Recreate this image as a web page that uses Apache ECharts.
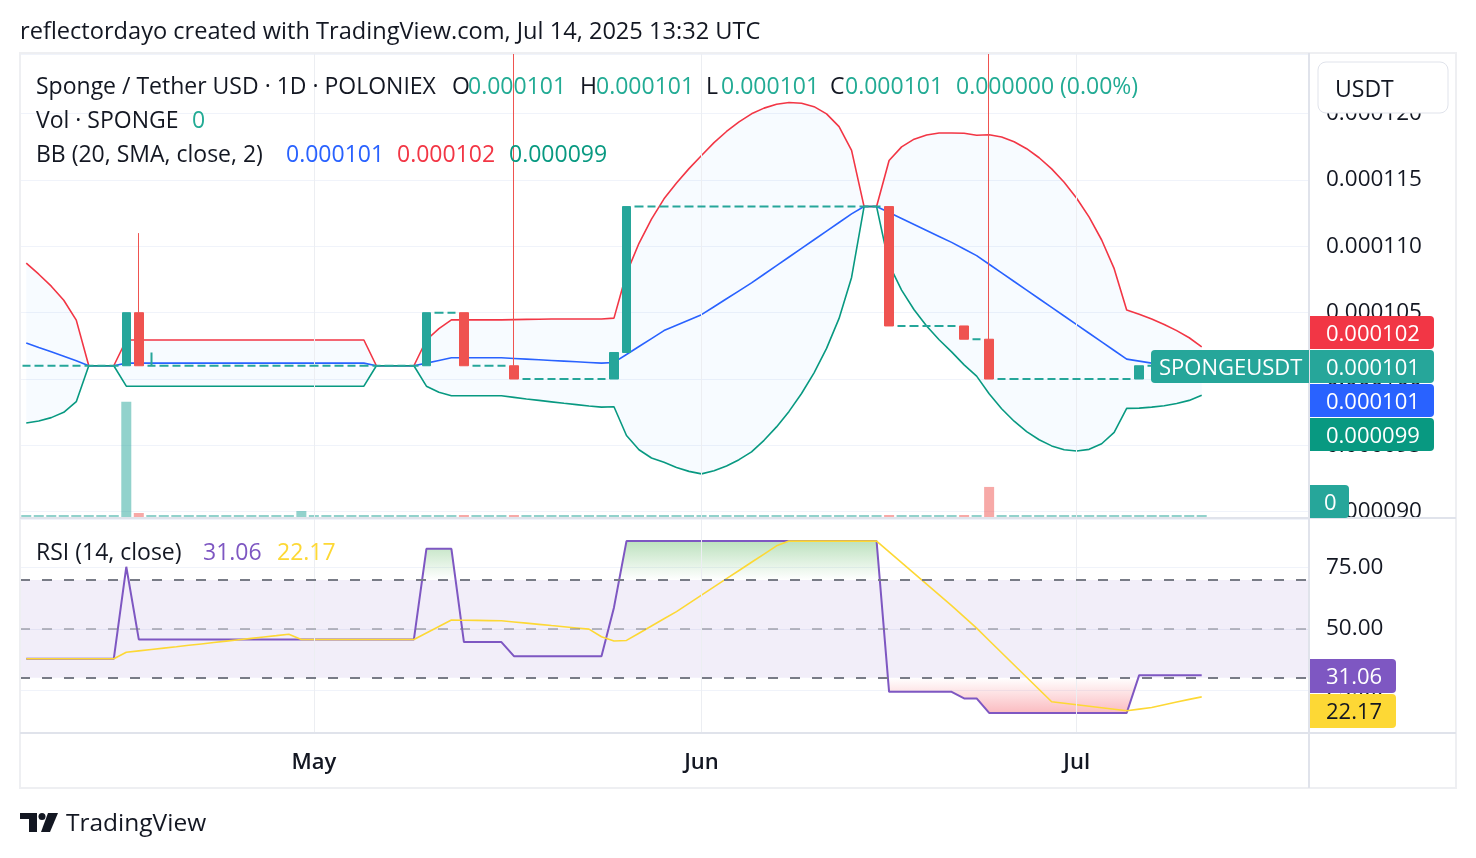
<!DOCTYPE html>
<html>
<head>
<meta charset="utf-8">
<title>Sponge / Tether USD · 1D · POLONIEX</title>
<script src="https://cdn.jsdelivr.net/npm/echarts@6.0.0/dist/echarts.min.js"></script>
<style>
  html, body { margin: 0; padding: 0; background: #ffffff; }
  #chart { width: 1476px; height: 858px; }
</style>
</head>
<body>
<div id="chart"></div>
<script>
// Prices are kept in micro-USDT (1 = 0.000001 USDT), one entry per day from 2025-04-08 to 2025-07-11
const firstDay = Date.UTC(2025, 3, 8);
const axisDays = 103; // the time axis runs on to 2025-07-19

const opens = [
  101, 101, 101, 101, 101, 101, 101, 101, 101, 105,
  101, 101, 101, 101, 101, 101, 101, 101, 101, 101,
  101, 101, 101, 101, 101, 101, 101, 101, 101, 101,
  101, 101, 101, 105, 105, 105, 101, 101, 101, 101,
  100, 100, 100, 100, 100, 100, 100, 100, 102, 113,
  113, 113, 113, 113, 113, 113, 113, 113, 113, 113,
  113, 113, 113, 113, 113, 113, 113, 113, 113, 113,
  104, 104, 104, 104, 104, 104, 103, 103, 100, 100,
  100, 100, 100, 100, 100, 100, 100, 100, 100, 100,
  101, 101, 101, 101, 101
];
const closes = [
  101, 101, 101, 101, 101, 101, 101, 101, 105, 101,
  101, 101, 101, 101, 101, 101, 101, 101, 101, 101,
  101, 101, 101, 101, 101, 101, 101, 101, 101, 101,
  101, 101, 105, 105, 105, 101, 101, 101, 101, 100,
  100, 100, 100, 100, 100, 100, 100, 102, 113, 113,
  113, 113, 113, 113, 113, 113, 113, 113, 113, 113,
  113, 113, 113, 113, 113, 113, 113, 113, 113, 104,
  104, 104, 104, 104, 104, 103, 103, 100, 100, 100,
  100, 100, 100, 100, 100, 100, 100, 100, 100, 101,
  101, 101, 101, 101, 101
];
// the two long wicks run past the top of the pane; 124.5 is the top edge
const highs = [
  101, 101, 101, 101, 101, 101, 101, 101, 105, 111,
  102, 101, 101, 101, 101, 101, 101, 101, 101, 101,
  101, 101, 101, 101, 101, 101, 101, 101, 101, 101,
  101, 101, 105, 105, 105, 105, 101, 101, 101, 124.5,
  100, 100, 100, 100, 100, 100, 100, 102, 113, 113,
  113, 113, 113, 113, 113, 113, 113, 113, 113, 113,
  113, 113, 113, 113, 113, 113, 113, 113, 113, 113,
  104, 104, 104, 104, 104, 104, 103, 124.5, 100, 100,
  100, 100, 100, 100, 100, 100, 100, 100, 100, 101,
  101, 101, 101, 101, 101
];
const lows = [
  101, 101, 101, 101, 101, 101, 101, 101, 101, 101,
  101, 101, 101, 101, 101, 101, 101, 101, 101, 101,
  101, 101, 101, 101, 101, 101, 101, 101, 101, 101,
  101, 101, 101, 105, 105, 101, 101, 101, 101, 100,
  100, 100, 100, 100, 100, 100, 100, 100, 102, 113,
  113, 113, 113, 113, 113, 113, 113, 113, 113, 113,
  113, 113, 113, 113, 113, 113, 113, 113, 113, 104,
  104, 104, 104, 104, 104, 103, 103, 100, 100, 100,
  100, 100, 100, 100, 100, 100, 100, 100, 100, 100,
  101, 101, 101, 101, 101
];
// volume, thousand SPONGE
const volumes = [
  0, 0, 0, 0, 0, 0, 0, 0, 1150, 40,
  0, 0, 0, 0, 0, 0, 0, 0, 0, 0,
  0, 0, 60, 0, 0, 0, 0, 0, 0, 0,
  0, 0, 0, 0, 0, 0, 0, 0, 0, 0,
  0, 0, 0, 0, 0, 0, 0, 0, 0, 0,
  0, 0, 0, 0, 0, 0, 0, 0, 0, 0,
  0, 0, 0, 0, 0, 0, 0, 0, 0, 0,
  0, 0, 0, 0, 0, 0, 0, 300, 0, 0,
  0, 0, 0, 0, 0, 0, 0, 0, 0, 0,
  0, 0, 0, 0, 0
];
const bbUpper = [
  108.73, 107.90, 107.00, 105.94, 104.44, 101, 101, 101, 102.94, 102.94,
  102.94, 102.94, 102.94, 102.94, 102.94, 102.94, 102.94, 102.94, 102.94, 102.94,
  102.94, 102.94, 102.94, 102.94, 102.94, 102.94, 102.94, 102.94, 101, 101,
  101, 101, 102.94, 103.80, 104.46, 104.46, 104.46, 104.46, 104.46, 104.48,
  104.50, 104.51, 104.52, 104.53, 104.53, 104.53, 104.52, 104.59, 107.96, 110.23,
  112.05, 113.58, 114.77, 115.86, 116.85, 117.82, 118.66, 119.38, 119.99, 120.42,
  120.71, 120.84, 120.79, 120.53, 119.99, 119.03, 117.24, 113, 113, 116.47,
  117.50, 118.08, 118.40, 118.54, 118.55, 118.53, 118.38, 118.41, 118.24, 117.88,
  117.36, 116.68, 115.84, 114.83, 113.63, 112.20, 110.48, 108.32, 105.21, 104.89,
  104.52, 104.11, 103.65, 103.11, 102.43
];
const bbBasis = [
  102.71, 102.37, 102.05, 101.72, 101.37, 101, 101, 101, 101.2, 101.2,
  101.2, 101.2, 101.2, 101.2, 101.2, 101.2, 101.2, 101.2, 101.2, 101.2,
  101.2, 101.2, 101.2, 101.2, 101.2, 101.2, 101.2, 101.2, 101, 101,
  101, 101, 101.2, 101.4, 101.6, 101.6, 101.6, 101.6, 101.6, 101.55,
  101.5, 101.45, 101.4, 101.35, 101.3, 101.25, 101.2, 101.25, 101.85, 102.45,
  103.05, 103.65, 104.05, 104.45, 104.85, 105.45, 106.05, 106.65, 107.25, 107.9,
  108.55, 109.2, 109.85, 110.5, 111.15, 111.8, 112.45, 113, 113, 112.55,
  112.1, 111.65, 111.2, 110.75, 110.3, 109.8, 109.3, 108.65, 108.0, 107.35,
  106.7, 106.05, 105.4, 104.75, 104.1, 103.45, 102.8, 102.15, 101.5, 101.35,
  101.2, 101.05, 100.9, 100.75, 100.6
];
const bbLower = [
  96.69, 96.84, 97.09, 97.49, 98.29, 101, 101, 101, 99.46, 99.46,
  99.46, 99.46, 99.46, 99.46, 99.46, 99.46, 99.46, 99.46, 99.46, 99.46,
  99.46, 99.46, 99.46, 99.46, 99.46, 99.46, 99.46, 99.46, 101, 101,
  101, 101, 99.46, 99.0, 98.74, 98.74, 98.74, 98.74, 98.74, 98.62,
  98.5, 98.39, 98.28, 98.17, 98.07, 97.97, 97.88, 97.91, 95.74, 94.67,
  94.05, 93.72, 93.33, 93.04, 92.85, 93.08, 93.44, 93.92, 94.51, 95.38,
  96.39, 97.56, 98.91, 100.47, 102.31, 104.57, 107.66, 113, 113, 108.63,
  106.7, 105.22, 104.0, 102.96, 102.05, 101.07, 100.22, 98.89, 97.76, 96.82,
  96.04, 95.42, 94.96, 94.67, 94.57, 94.7, 95.12, 95.98, 97.79, 97.81,
  97.88, 97.99, 98.15, 98.39, 98.77
];
const rsi = [
  37.73, 37.73, 37.73, 37.73, 37.73, 37.73, 37.73, 37.73, 75.36, 45.66,
  45.66, 45.66, 45.66, 45.66, 45.66, 45.66, 45.66, 45.66, 45.66, 45.66,
  45.66, 45.66, 45.66, 45.66, 45.66, 45.66, 45.66, 45.66, 45.66, 45.66,
  45.66, 45.66, 82.72, 82.72, 82.72, 44.56, 44.56, 44.56, 44.56, 38.83,
  38.83, 38.83, 38.83, 38.83, 38.83, 38.83, 38.83, 58.75, 85.87, 85.87,
  85.87, 85.87, 85.87, 85.87, 85.87, 85.87, 85.87, 85.87, 85.87, 85.87,
  85.87, 85.87, 85.87, 85.87, 85.87, 85.87, 85.87, 85.87, 85.87, 24.23,
  24.23, 24.23, 24.23, 24.23, 24.23, 21.53, 21.53, 15.6, 15.6, 15.6,
  15.6, 15.6, 15.6, 15.6, 15.6, 15.6, 15.6, 15.6, 15.6, 31.06,
  31.06, 31.06, 31.06, 31.06, 31.06
];
const rsiMa = [
  37.73, 37.73, 37.73, 37.73, 37.73, 37.73, 37.73, 37.73, 40.42, 40.98,
  41.55, 42.12, 42.68, 43.25, 43.82, 44.38, 44.95, 45.52, 46.08, 46.65,
  47.21, 47.78, 45.66, 45.66, 45.66, 45.66, 45.66, 45.66, 45.66, 45.66,
  45.66, 45.66, 48.31, 50.96, 53.61, 53.52, 53.44, 53.36, 53.28, 52.80,
  52.31, 51.82, 51.33, 50.85, 50.36, 49.87, 46.74, 45.03, 45.25, 48.20,
  51.15, 54.10, 57.05, 60.41, 63.77, 67.13, 70.49, 73.85, 77.21, 80.57,
  83.93, 85.87, 85.87, 85.87, 85.87, 85.87, 85.87, 85.87, 85.87, 81.47,
  77.07, 72.66, 68.26, 63.86, 59.45, 54.86, 50.26, 45.24, 40.23, 35.21,
  30.20, 25.18, 20.16, 19.55, 18.94, 18.32, 17.71, 17.10, 16.48, 17.16,
  17.84, 18.94, 20.05, 21.15, 22.17
];
const monthNames = ['Jan', 'Feb', 'Mar', 'Apr', 'May', 'Jun', 'Jul', 'Aug', 'Sep', 'Oct', 'Nov', 'Dec'];

const dates = [];
for (let i = 0; i < axisDays; i++) {
  dates.push(new Date(firstDay + i * 864e5).toISOString().slice(0, 10));
}
const monthStarts = dates.filter(d => d.endsWith('-01'));

// layout of the panes
const plotLeft = 20, plotWidth = 1288;
const pricePane = { top: 54, height: 463 };
const rsiPane = { top: 519, height: 214 };
const priceRange = [89.6, 124.5];
const rsiRange = [7.4, 94.9];
const rsiPx = rsiPane.height / (rsiRange[1] - rsiRange[0]);
const rsiY = v => rsiPane.top + (rsiRange[1] - v) * rsiPx;

const ink = '#131722';
const teal = '#26a69a';
const red = '#ef5350';
const font = "'Open Sans', sans-serif";
const fmtPrice = v => (v / 1e6).toFixed(6);

const last = closes.length - 1;

const candleData = opens.map((o, i) => {
  const item = { value: [o, closes[i], lows[i], highs[i]] };
  if (o === closes[i]) item.itemStyle = { borderWidth: 2 };
  return item;
});
const volumeData = volumes.map((v, i) => ({
  value: v,
  itemStyle: { color: closes[i] < opens[i] ? 'rgba(239,83,80,0.5)' : 'rgba(38,166,154,0.5)' }
}));

// ---- graphic helpers (legends, price tags, frame)
function text(str, x, y, color, size, weight) {
  return {
    type: 'text', x: x, y: y + 2, z: 100, silent: true,
    style: {
      text: str, fill: color, fontSize: size || 23, fontFamily: font, fontWeight: weight || 'normal',
      align: 'left', verticalAlign: 'middle', textAlign: 'left', textVerticalAlign: 'middle'
    }
  };
}
function tag(str, x, y, w, h, bg, fg, r, tx) {
  const t = text(str, tx || x + 16, y + h / 2, fg, 22);
  return [
    { type: 'rect', z: 100, silent: true, shape: { x: x, y: y, width: w, height: h, r: r }, style: { fill: bg } },
    t
  ];
}
function hline(x1, x2, y, color, w) {
  return { type: 'line', z: 99, silent: true, shape: { x1: x1, y1: y, x2: x2, y2: y }, style: { stroke: color, lineWidth: w } };
}

const legendTeal = '#22ab94';
const graphics = [
  { type: 'rect', z: 99, silent: true, shape: { x: 20, y: 53, width: 1436, height: 735 }, style: { fill: 'none', stroke: '#eeeff2', lineWidth: 2 } },
  { type: 'line', z: 99, silent: true, shape: { x1: 1309, y1: 53, x2: 1309, y2: 788 }, style: { stroke: '#e0e3eb', lineWidth: 2 } },
  hline(20, 1456, 518, '#e0e3eb', 2),
  hline(20, 1456, 733, '#e0e3eb', 2),

  text('reflectordayo created with TradingView.com, Jul 14, 2025 13:32 UTC', 20, 30, ink, 23.6),

  text('Sponge / Tether USD · 1D · POLONIEX', 36, 85, ink),
  text('O', 452, 85, ink), text(fmtPrice(opens[last]), 468, 85, legendTeal),
  text('H', 580, 85, ink), text(fmtPrice(highs[last]), 596, 85, legendTeal),
  text('L', 706, 85, ink), text(fmtPrice(lows[last]), 721, 85, legendTeal),
  text('C', 830, 85, ink), text(fmtPrice(closes[last]), 845, 85, legendTeal),
  text(fmtPrice(closes[last] - closes[last - 1]) + ' (0.00%)', 956, 85, legendTeal),
  text('Vol · SPONGE', 36, 119, ink), text(String(volumes[last]), 192, 119, legendTeal),
  text('BB (20, SMA, close, 2)', 36, 153, ink),
  text(fmtPrice(bbBasis[last]), 286, 153, '#2962ff'),
  text(fmtPrice(bbUpper[last]), 397, 153, '#f23645'),
  text(fmtPrice(bbLower[last]), 509, 153, '#089981'),
  text('RSI (14, close)', 36, 551, ink),
  text(rsi[last].toFixed(2), 203, 551, '#7e57c2'),
  text(rsiMa[last].toFixed(2), 277, 551, '#fdd835'),

  { type: 'rect', z: 100, silent: true, shape: { x: 1318, y: 62, width: 130, height: 51, r: 8 }, style: { fill: '#ffffff', stroke: '#e0e3eb', lineWidth: 1 } },
  text('USDT', 1335, 88, ink),

  ...tag('SPONGEUSDT', 1151, 350, 158, 33, teal, '#ffffff', [4, 0, 0, 4], 1159),
  ...tag(fmtPrice(bbUpper[last]), 1310, 316, 124, 33, '#f23645', '#ffffff', [0, 4, 4, 0]),
  ...tag(fmtPrice(closes[last]), 1310, 350, 124, 33, teal, '#ffffff', [0, 4, 4, 0]),
  ...tag(fmtPrice(bbBasis[last]), 1310, 384, 124, 33, '#2962ff', '#ffffff', [0, 4, 4, 0]),
  ...tag(fmtPrice(bbLower[last]), 1310, 418, 124, 33, '#089981', '#ffffff', [0, 4, 4, 0]),
  ...tag(String(volumes[last]), 1310, 485, 39, 33, teal, '#ffffff', [0, 4, 4, 0], 1324),
  ...tag(rsi[last].toFixed(2), 1310, 659, 86, 34, '#7e57c2', '#ffffff', [0, 4, 4, 0]),
  ...tag(rsiMa[last].toFixed(2), 1310, 694, 86, 34, '#fdd835', ink, [0, 4, 4, 0]),

  // TradingView mark
  { type: 'rect', z: 100, silent: true, shape: { x: 20, y: 813, width: 17, height: 6 }, style: { fill: ink } },
  { type: 'rect', z: 100, silent: true, shape: { x: 29, y: 813, width: 8, height: 19 }, style: { fill: ink } },
  { type: 'circle', z: 100, silent: true, shape: { cx: 42, cy: 816.5, r: 3.5 }, style: { fill: ink } },
  { type: 'polygon', z: 100, silent: true, shape: { points: [[48, 813], [58, 813], [50, 832], [41, 832]] }, style: { fill: ink } },
  text('TradingView', 66, 822, ink, 24.5)
];

const chart = echarts.init(document.getElementById('chart'), null, { renderer: 'canvas' });

const hiddenX = i => ({
  type: 'category', gridIndex: i, data: dates, boundaryGap: true, show: false
});

chart.setOption({
  animation: false,
  backgroundColor: '#ffffff',
  textStyle: { fontFamily: font },
  grid: [
    { left: plotLeft, top: pricePane.top, width: plotWidth, height: pricePane.height },
    { left: plotLeft, top: pricePane.top, width: plotWidth, height: pricePane.height },
    { left: plotLeft, top: rsiPane.top, width: plotWidth, height: rsiPane.height },
    { left: plotLeft, top: rsiPane.top, width: plotWidth, height: rsiY(70) - rsiPane.top },
    { left: plotLeft, top: rsiY(30), width: plotWidth, height: rsiPane.top + rsiPane.height - rsiY(30) }
  ],
  xAxis: [
    hiddenX(0),
    hiddenX(1),
    {
      type: 'category', gridIndex: 2, data: dates, boundaryGap: true,
      axisLine: { show: false }, axisTick: { show: false }, splitLine: { show: false },
      axisLabel: {
        margin: 19, color: ink, fontSize: 22, fontWeight: 600,
        interval: (idx, val) => val.endsWith('-01'),
        formatter: val => monthNames[+val.slice(5, 7) - 1]
      }
    },
    hiddenX(3),
    hiddenX(4)
  ],
  yAxis: [
    {
      type: 'value', gridIndex: 0, position: 'right', min: priceRange[0], max: priceRange[1],
      minInterval: 5, maxInterval: 5,
      axisLine: { show: false }, axisTick: { show: false },
      splitLine: { lineStyle: { color: '#f0f3fa', width: 1 } },
      axisLabel: { margin: 18, color: ink, fontSize: 22.5, formatter: fmtPrice, showMinLabel: false, showMaxLabel: false }
    },
    { type: 'value', gridIndex: 1, min: 0, max: 4620, show: false },
    {
      type: 'value', gridIndex: 2, position: 'right', min: rsiRange[0], max: rsiRange[1],
      minInterval: 25, maxInterval: 25,
      axisLine: { show: false }, axisTick: { show: false },
      splitLine: { lineStyle: { color: '#f0f3fa', width: 1 } },
      axisLabel: { margin: 18, color: ink, fontSize: 22.5, formatter: v => v.toFixed(2), showMinLabel: false, showMaxLabel: false }
    },
    { type: 'value', gridIndex: 3, min: 70, max: rsiRange[1], show: false },
    { type: 'value', gridIndex: 4, min: rsiRange[0], max: 30, show: false }
  ],
  series: [
    {
      name: 'Volume', type: 'bar', xAxisIndex: 1, yAxisIndex: 1, data: volumeData,
      barWidth: 10, barMinHeight: 2, z: 1, silent: true,
      markLine: {
        silent: true, symbol: ['none', 'none'], label: { show: false },
        lineStyle: { color: '#eceef2', width: 1, type: 'solid' },
        data: monthStarts.map(d => ({ xAxis: d }))
      }
    },
    {
      name: 'bbBase', type: 'line', data: bbLower, stack: 'bb', symbol: 'none',
      lineStyle: { opacity: 0 }, silent: true, z: 2
    },
    {
      name: 'bbFill', type: 'line', data: bbUpper.map((u, i) => +(u - bbLower[i]).toFixed(2)), stack: 'bb', symbol: 'none',
      lineStyle: { opacity: 0 }, areaStyle: { color: 'rgba(33,150,243,0.05)' }, silent: true, z: 2
    },
    { name: 'BB upper', type: 'line', data: bbUpper, symbol: 'none', lineStyle: { color: '#f23645', width: 1.6 }, z: 3 },
    { name: 'BB basis', type: 'line', data: bbBasis, symbol: 'none', lineStyle: { color: '#2962ff', width: 1.6 }, z: 3 },
    { name: 'BB lower', type: 'line', data: bbLower, symbol: 'none', lineStyle: { color: '#089981', width: 1.6 }, z: 3 },
    {
      name: 'SPONGEUSDT', type: 'candlestick', data: candleData, barWidth: 9, z: 5, clip: true,
      itemStyle: { color: teal, color0: red, borderColor: teal, borderColor0: red, borderWidth: 1 }
    },
    {
      name: 'rsiBand', type: 'line', xAxisIndex: 2, yAxisIndex: 2, data: rsi, symbol: 'none',
      lineStyle: { opacity: 0 }, silent: true, z: 1,
      markArea: {
        silent: true, itemStyle: { color: 'rgba(126,87,194,0.1)' },
        data: [[{ yAxis: 70 }, { yAxis: 30 }]]
      },
      markLine: {
        silent: true, symbol: ['none', 'none'], label: { show: false },
        data: [
          ...monthStarts.map(d => ({ xAxis: d, lineStyle: { color: '#eceef2', width: 1, type: 'solid' } })),
          { yAxis: 70, lineStyle: { color: '#787b86', width: 2, type: [10, 12] } },
          { yAxis: 50, lineStyle: { color: 'rgba(120,123,134,0.5)', width: 2, type: [10, 12] } },
          { yAxis: 30, lineStyle: { color: '#787b86', width: 2, type: [10, 12] } }
        ]
      }
    },
    {
      name: 'overbought', type: 'line', xAxisIndex: 3, yAxisIndex: 3, data: rsi, symbol: 'none',
      lineStyle: { opacity: 0 }, silent: true, z: 2,
      areaStyle: {
        origin: 'start',
        color: {
          type: 'linear', x: 0, y: rsiY(100), x2: 0, y2: rsiY(70), global: true,
          colorStops: [{ offset: 0, color: 'rgba(76,175,80,1)' }, { offset: 1, color: 'rgba(76,175,80,0)' }]
        }
      }
    },
    {
      name: 'oversold', type: 'line', xAxisIndex: 4, yAxisIndex: 4, data: rsi, symbol: 'none',
      lineStyle: { opacity: 0 }, silent: true, z: 2,
      areaStyle: {
        origin: 'end',
        color: {
          type: 'linear', x: 0, y: rsiY(30), x2: 0, y2: rsiY(0), global: true,
          colorStops: [{ offset: 0, color: 'rgba(242,54,69,0)' }, { offset: 1, color: 'rgba(242,54,69,1)' }]
        }
      }
    },
    { name: 'RSI', type: 'line', xAxisIndex: 2, yAxisIndex: 2, data: rsi, symbol: 'none', lineStyle: { color: '#7e57c2', width: 2 }, z: 3 },
    { name: 'RSI-based MA', type: 'line', xAxisIndex: 2, yAxisIndex: 2, data: rsiMa, symbol: 'none', lineStyle: { color: '#fdd835', width: 1.6 }, z: 4 }
  ],
  graphic: graphics
});
</script>
</body>
</html>
